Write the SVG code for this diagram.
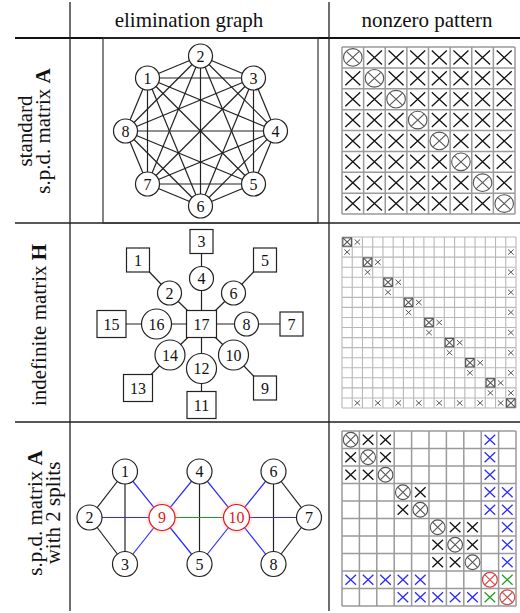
<svg xmlns="http://www.w3.org/2000/svg" xmlns:xlink="http://www.w3.org/1999/xlink" width="520" height="613" viewBox="0 0 520 613">
<style>
  .txt { font-family: "Liberation Serif", "Times New Roman", serif; fill: #111; }
  .head { font-size: 21px; text-anchor: middle; }
  .rowlbl { font-size: 21px; text-anchor: middle; }
  .nl { font-family: "Liberation Serif", "Times New Roman", serif; font-size: 16px; text-anchor: middle; fill: #111; }
  .nl.red { fill: #e01818; }
  .tbl { stroke: #222; stroke-width: 1.3; fill: none; }
  .rule { stroke: #111; stroke-width: 1.8; fill: none; }
  .node { fill: #fff; stroke: #222; stroke-width: 1.2; }
  .node.red { stroke: #e01818; }
  .edge { stroke: #222; stroke-width: 1.2; }
  .edge.blue { stroke: #2b2bff; }
  .edge.green { stroke: #1f9a1f; }
  .grid { fill: none; stroke: #9a9a9a; stroke-width: 1.5; }
  .grid.fine { stroke: #b8b8b8; stroke-width: 1.1; }
  .mk { fill: none; stroke: #111; stroke-width: 1.3; }
  .mkd { fill: none; stroke: #555; stroke-width: 1.1; }
  .mks { fill: none; stroke: #555; stroke-width: 1; }
  .mkb { fill: none; stroke: #2b2bff; stroke-width: 1.3; }
  .mkg { fill: none; stroke: #22a022; stroke-width: 1.3; }
  .mkr { fill: none; stroke: #d84848; stroke-width: 1.2; }
  .frame { fill: none; stroke: #333; stroke-width: 1.2; }
</style>
<defs>
  <!-- cross and circled-cross marks, centred on the origin -->
  <path id="xa" d="M-7.5 -7L7.5 7M-7.5 7L7.5 -7"/>
  <g id="oa"><ellipse rx="9.3" ry="8.8"/><path d="M-6.4 -6L6.4 6M-6.4 6L6.4 -6"/></g>
  <path id="xb" d="M-2.8 -2.6L2.8 2.6M-2.8 2.6L2.8 -2.6"/>
  <g id="sb"><rect x="-4.3" y="-4.2" width="8.6" height="8.4"/><path d="M-4.3 -4.2L4.3 4.2M-4.3 4.2L4.3 -4.2"/></g>
  <path id="xc" d="M-5.3 -5L5.3 5M-5.3 5L5.3 -5"/>
  <g id="oc"><circle r="7.4"/><path d="M-5.2 -5.2L5.2 5.2M-5.2 5.2L5.2 -5.2"/></g>
  <filter id="halo" x="-50%" y="-50%" width="200%" height="200%">
    <feGaussianBlur stdDeviation="1.6"/>
  </filter>
</defs>

<!-- table rules -->
<g id="table">
  <path class="rule" d="M15 38H520"/>
  <path class="tbl" d="M15 223H520M15 422H520M70 2V611M329 2V611"/>
</g>

<!-- column headings -->
<text class="txt head" x="189" y="27">elimination graph</text>
<text class="txt head" x="427" y="27">nonzero pattern</text>

<!-- row headings -->
<text class="txt rowlbl" transform="translate(32,131) rotate(-90)">standard</text>
<text class="txt rowlbl" transform="translate(50,131) rotate(-90)">s.p.d. matrix <tspan font-weight="bold">A</tspan></text>
<text class="txt rowlbl" transform="translate(46,325) rotate(-90)">indefinite matrix <tspan font-weight="bold">H</tspan></text>
<text class="txt rowlbl" transform="translate(42,513) rotate(-90)">s.p.d. matrix <tspan font-weight="bold">A</tspan></text>
<text class="txt rowlbl" transform="translate(60,513) rotate(-90)">with 2 splits</text>

<!-- ===== row 1: complete graph on 8 vertices ===== -->
<rect class="frame" x="103" y="38" width="215" height="185"/>
<g id="edges-k8">
  <line class="edge" x1="147.5" y1="78" x2="200.5" y2="56"/>
  <line class="edge" x1="147.5" y1="78" x2="253.5" y2="78"/>
  <line class="edge" x1="147.5" y1="78" x2="275.5" y2="131"/>
  <line class="edge" x1="147.5" y1="78" x2="253.5" y2="184"/>
  <line class="edge" x1="147.5" y1="78" x2="200.5" y2="206"/>
  <line class="edge" x1="147.5" y1="78" x2="147.5" y2="184"/>
  <line class="edge" x1="147.5" y1="78" x2="125.5" y2="131"/>
  <line class="edge" x1="200.5" y1="56" x2="253.5" y2="78"/>
  <line class="edge" x1="200.5" y1="56" x2="275.5" y2="131"/>
  <line class="edge" x1="200.5" y1="56" x2="253.5" y2="184"/>
  <line class="edge" x1="200.5" y1="56" x2="200.5" y2="206"/>
  <line class="edge" x1="200.5" y1="56" x2="147.5" y2="184"/>
  <line class="edge" x1="200.5" y1="56" x2="125.5" y2="131"/>
  <line class="edge" x1="253.5" y1="78" x2="275.5" y2="131"/>
  <line class="edge" x1="253.5" y1="78" x2="253.5" y2="184"/>
  <line class="edge" x1="253.5" y1="78" x2="200.5" y2="206"/>
  <line class="edge" x1="253.5" y1="78" x2="147.5" y2="184"/>
  <line class="edge" x1="253.5" y1="78" x2="125.5" y2="131"/>
  <line class="edge" x1="275.5" y1="131" x2="253.5" y2="184"/>
  <line class="edge" x1="275.5" y1="131" x2="200.5" y2="206"/>
  <line class="edge" x1="275.5" y1="131" x2="147.5" y2="184"/>
  <line class="edge" x1="275.5" y1="131" x2="125.5" y2="131"/>
  <line class="edge" x1="253.5" y1="184" x2="200.5" y2="206"/>
  <line class="edge" x1="253.5" y1="184" x2="147.5" y2="184"/>
  <line class="edge" x1="253.5" y1="184" x2="125.5" y2="131"/>
  <line class="edge" x1="200.5" y1="206" x2="147.5" y2="184"/>
  <line class="edge" x1="200.5" y1="206" x2="125.5" y2="131"/>
  <line class="edge" x1="147.5" y1="184" x2="125.5" y2="131"/>
</g>
<g id="k8-n1"><circle class="node" cx="147.5" cy="78" r="12"/><text class="nl" x="147.5" y="83.5">1</text></g>
<g id="k8-n2"><circle class="node" cx="200.5" cy="56" r="12"/><text class="nl" x="200.5" y="61.5">2</text></g>
<g id="k8-n3"><circle class="node" cx="253.5" cy="78" r="12"/><text class="nl" x="253.5" y="83.5">3</text></g>
<g id="k8-n4"><circle class="node" cx="275.5" cy="131" r="12"/><text class="nl" x="275.5" y="136.5">4</text></g>
<g id="k8-n5"><circle class="node" cx="253.5" cy="184" r="12"/><text class="nl" x="253.5" y="189.5">5</text></g>
<g id="k8-n6"><circle class="node" cx="200.5" cy="206" r="12"/><text class="nl" x="200.5" y="211.5">6</text></g>
<g id="k8-n7"><circle class="node" cx="147.5" cy="184" r="12"/><text class="nl" x="147.5" y="189.5">7</text></g>
<g id="k8-n8"><circle class="node" cx="125.5" cy="131" r="12"/><text class="nl" x="125.5" y="136.5">8</text></g>

<!-- row 1: dense 8x8 pattern -->
<g id="pattern-dense">
  <path class="grid" d="M342 47V214M363.625 47V214M385.25 47V214M406.875 47V214M428.5 47V214M450.125 47V214M471.75 47V214M493.375 47V214M515 47V214M342 47H515M342 67.875H515M342 88.75H515M342 109.625H515M342 130.5H515M342 151.375H515M342 172.25H515M342 193.125H515M342 214H515"/>
  <use href="#oa" class="mkd" x="352.81" y="57.44"/><use href="#xa" class="mk" x="374.44" y="57.44"/><use href="#xa" class="mk" x="396.06" y="57.44"/><use href="#xa" class="mk" x="417.69" y="57.44"/><use href="#xa" class="mk" x="439.31" y="57.44"/><use href="#xa" class="mk" x="460.94" y="57.44"/><use href="#xa" class="mk" x="482.56" y="57.44"/><use href="#xa" class="mk" x="504.19" y="57.44"/>
  <use href="#xa" class="mk" x="352.81" y="78.31"/><use href="#oa" class="mkd" x="374.44" y="78.31"/><use href="#xa" class="mk" x="396.06" y="78.31"/><use href="#xa" class="mk" x="417.69" y="78.31"/><use href="#xa" class="mk" x="439.31" y="78.31"/><use href="#xa" class="mk" x="460.94" y="78.31"/><use href="#xa" class="mk" x="482.56" y="78.31"/><use href="#xa" class="mk" x="504.19" y="78.31"/>
  <use href="#xa" class="mk" x="352.81" y="99.19"/><use href="#xa" class="mk" x="374.44" y="99.19"/><use href="#oa" class="mkd" x="396.06" y="99.19"/><use href="#xa" class="mk" x="417.69" y="99.19"/><use href="#xa" class="mk" x="439.31" y="99.19"/><use href="#xa" class="mk" x="460.94" y="99.19"/><use href="#xa" class="mk" x="482.56" y="99.19"/><use href="#xa" class="mk" x="504.19" y="99.19"/>
  <use href="#xa" class="mk" x="352.81" y="120.06"/><use href="#xa" class="mk" x="374.44" y="120.06"/><use href="#xa" class="mk" x="396.06" y="120.06"/><use href="#oa" class="mkd" x="417.69" y="120.06"/><use href="#xa" class="mk" x="439.31" y="120.06"/><use href="#xa" class="mk" x="460.94" y="120.06"/><use href="#xa" class="mk" x="482.56" y="120.06"/><use href="#xa" class="mk" x="504.19" y="120.06"/>
  <use href="#xa" class="mk" x="352.81" y="140.94"/><use href="#xa" class="mk" x="374.44" y="140.94"/><use href="#xa" class="mk" x="396.06" y="140.94"/><use href="#xa" class="mk" x="417.69" y="140.94"/><use href="#oa" class="mkd" x="439.31" y="140.94"/><use href="#xa" class="mk" x="460.94" y="140.94"/><use href="#xa" class="mk" x="482.56" y="140.94"/><use href="#xa" class="mk" x="504.19" y="140.94"/>
  <use href="#xa" class="mk" x="352.81" y="161.81"/><use href="#xa" class="mk" x="374.44" y="161.81"/><use href="#xa" class="mk" x="396.06" y="161.81"/><use href="#xa" class="mk" x="417.69" y="161.81"/><use href="#xa" class="mk" x="439.31" y="161.81"/><use href="#oa" class="mkd" x="460.94" y="161.81"/><use href="#xa" class="mk" x="482.56" y="161.81"/><use href="#xa" class="mk" x="504.19" y="161.81"/>
  <use href="#xa" class="mk" x="352.81" y="182.69"/><use href="#xa" class="mk" x="374.44" y="182.69"/><use href="#xa" class="mk" x="396.06" y="182.69"/><use href="#xa" class="mk" x="417.69" y="182.69"/><use href="#xa" class="mk" x="439.31" y="182.69"/><use href="#xa" class="mk" x="460.94" y="182.69"/><use href="#oa" class="mkd" x="482.56" y="182.69"/><use href="#xa" class="mk" x="504.19" y="182.69"/>
  <use href="#xa" class="mk" x="352.81" y="203.56"/><use href="#xa" class="mk" x="374.44" y="203.56"/><use href="#xa" class="mk" x="396.06" y="203.56"/><use href="#xa" class="mk" x="417.69" y="203.56"/><use href="#xa" class="mk" x="439.31" y="203.56"/><use href="#xa" class="mk" x="460.94" y="203.56"/><use href="#xa" class="mk" x="482.56" y="203.56"/><use href="#oa" class="mkd" x="504.19" y="203.56"/>
</g>

<!-- ===== row 2: star-shaped graph of the indefinite matrix ===== -->
<g id="edges-star">
  <line class="edge" x1="201.5" y1="324" x2="201.5" y2="278.5"/>
  <line class="edge" x1="201.5" y1="278.5" x2="201.5" y2="241.5"/>
  <line class="edge" x1="201.5" y1="324" x2="169.5" y2="293"/>
  <line class="edge" x1="169.5" y1="293" x2="138" y2="260"/>
  <line class="edge" x1="201.5" y1="324" x2="233.5" y2="293"/>
  <line class="edge" x1="233.5" y1="293" x2="265" y2="260"/>
  <line class="edge" x1="201.5" y1="324" x2="156.5" y2="324"/>
  <line class="edge" x1="156.5" y1="324" x2="111.5" y2="324"/>
  <line class="edge" x1="201.5" y1="324" x2="246.5" y2="324"/>
  <line class="edge" x1="246.5" y1="324" x2="291.5" y2="324"/>
  <line class="edge" x1="201.5" y1="324" x2="170" y2="355"/>
  <line class="edge" x1="170" y1="355" x2="138" y2="388"/>
  <line class="edge" x1="201.5" y1="324" x2="201.5" y2="368.5"/>
  <line class="edge" x1="201.5" y1="368.5" x2="201.5" y2="405"/>
  <line class="edge" x1="201.5" y1="324" x2="233.5" y2="355"/>
  <line class="edge" x1="233.5" y1="355" x2="265" y2="388"/>
</g>
<g id="st-n1"><rect class="node" x="126.5" y="248" width="23" height="24"/><text class="nl" x="138" y="265.5">1</text></g>
<g id="st-n2"><circle class="node" cx="169.5" cy="293" r="12"/><text class="nl" x="169.5" y="298.5">2</text></g>
<g id="st-n3"><rect class="node" x="190" y="229.5" width="23" height="24"/><text class="nl" x="201.5" y="247">3</text></g>
<g id="st-n4"><circle class="node" cx="201.5" cy="278.5" r="12"/><text class="nl" x="201.5" y="284">4</text></g>
<g id="st-n5"><rect class="node" x="253.5" y="248" width="23" height="24"/><text class="nl" x="265" y="265.5">5</text></g>
<g id="st-n6"><circle class="node" cx="233.5" cy="293" r="12"/><text class="nl" x="233.5" y="298.5">6</text></g>
<g id="st-n7"><rect class="node" x="280" y="312" width="23" height="24"/><text class="nl" x="291.5" y="329.5">7</text></g>
<g id="st-n8"><circle class="node" cx="246.5" cy="324" r="12"/><text class="nl" x="246.5" y="329.5">8</text></g>
<g id="st-n9"><rect class="node" x="253.5" y="376" width="23" height="24"/><text class="nl" x="265" y="393.5">9</text></g>
<g id="st-n10"><circle class="node" cx="233.5" cy="355" r="15"/><text class="nl" x="233.5" y="360.5">10</text></g>
<g id="st-n11"><rect class="node" x="187" y="391.5" width="29" height="27"/><text class="nl" x="201.5" y="410.5">11</text></g>
<g id="st-n12"><circle class="node" cx="201.5" cy="368.5" r="15"/><text class="nl" x="201.5" y="374">12</text></g>
<g id="st-n13"><rect class="node" x="123.5" y="374.5" width="29" height="27"/><text class="nl" x="138" y="393.5">13</text></g>
<g id="st-n14"><circle class="node" cx="170" cy="355" r="15"/><text class="nl" x="170" y="360.5">14</text></g>
<g id="st-n15"><rect class="node" x="97" y="310.5" width="29" height="27"/><text class="nl" x="111.5" y="329.5">15</text></g>
<g id="st-n16"><circle class="node" cx="156.5" cy="324" r="15"/><text class="nl" x="156.5" y="329.5">16</text></g>
<g id="st-n17"><rect class="node" x="186.5" y="310.5" width="30" height="27"/><text class="nl" x="201.5" y="329.5">17</text></g>

<!-- row 2: 17x17 arrow pattern -->
<g id="pattern-arrow">
  <path class="grid fine" d="M342 237V408M352.24 237V408M362.47 237V408M372.71 237V408M382.94 237V408M393.18 237V408M403.41 237V408M413.65 237V408M423.88 237V408M434.12 237V408M444.35 237V408M454.59 237V408M464.82 237V408M475.06 237V408M485.29 237V408M495.53 237V408M505.76 237V408M516 237V408M342 237H516M342 247.06H516M342 257.12H516M342 267.18H516M342 277.24H516M342 287.29H516M342 297.35H516M342 307.41H516M342 317.47H516M342 327.53H516M342 337.59H516M342 347.65H516M342 357.71H516M342 367.76H516M342 377.82H516M342 387.88H516M342 397.94H516M342 408H516"/>
  <use href="#sb" class="mkd" x="347.12" y="242.03"/><use href="#xb" class="mks" x="357.35" y="242.03"/>
  <use href="#xb" class="mks" x="347.12" y="252.09"/><use href="#xb" class="mks" x="510.88" y="252.09"/>
  <use href="#sb" class="mkd" x="367.59" y="262.15"/><use href="#xb" class="mks" x="377.82" y="262.15"/>
  <use href="#xb" class="mks" x="367.59" y="272.21"/><use href="#xb" class="mks" x="510.88" y="272.21"/>
  <use href="#sb" class="mkd" x="388.06" y="282.26"/><use href="#xb" class="mks" x="398.29" y="282.26"/>
  <use href="#xb" class="mks" x="388.06" y="292.32"/><use href="#xb" class="mks" x="510.88" y="292.32"/>
  <use href="#sb" class="mkd" x="408.53" y="302.38"/><use href="#xb" class="mks" x="418.76" y="302.38"/>
  <use href="#xb" class="mks" x="408.53" y="312.44"/><use href="#xb" class="mks" x="510.88" y="312.44"/>
  <use href="#sb" class="mkd" x="429" y="322.5"/><use href="#xb" class="mks" x="439.24" y="322.5"/>
  <use href="#xb" class="mks" x="429" y="332.56"/><use href="#xb" class="mks" x="510.88" y="332.56"/>
  <use href="#sb" class="mkd" x="449.47" y="342.62"/><use href="#xb" class="mks" x="459.71" y="342.62"/>
  <use href="#xb" class="mks" x="449.47" y="352.68"/><use href="#xb" class="mks" x="510.88" y="352.68"/>
  <use href="#sb" class="mkd" x="469.94" y="362.74"/><use href="#xb" class="mks" x="480.18" y="362.74"/>
  <use href="#xb" class="mks" x="469.94" y="372.79"/><use href="#xb" class="mks" x="510.88" y="372.79"/>
  <use href="#sb" class="mkd" x="490.41" y="382.85"/><use href="#xb" class="mks" x="500.65" y="382.85"/>
  <use href="#xb" class="mks" x="490.41" y="392.91"/><use href="#xb" class="mks" x="510.88" y="392.91"/>
  <use href="#xb" class="mks" x="357.35" y="402.97"/><use href="#xb" class="mks" x="377.82" y="402.97"/><use href="#xb" class="mks" x="398.29" y="402.97"/><use href="#xb" class="mks" x="418.76" y="402.97"/><use href="#xb" class="mks" x="439.24" y="402.97"/><use href="#xb" class="mks" x="459.71" y="402.97"/><use href="#xb" class="mks" x="480.18" y="402.97"/><use href="#xb" class="mks" x="500.65" y="402.97"/><use href="#sb" class="mkd" x="510.88" y="402.97"/>
</g>

<!-- ===== row 3: graph with two split vertices ===== -->
<g id="edges-split">
  <line class="edge" x1="125" y1="471.5" x2="89.5" y2="517.5"/>
  <line class="edge" x1="125" y1="471.5" x2="125" y2="564"/>
  <line class="edge" x1="89.5" y1="517.5" x2="125" y2="564"/>
  <line class="edge" x1="199.5" y1="471.5" x2="199.5" y2="564"/>
  <line class="edge" x1="273.5" y1="471.5" x2="309" y2="517.5"/>
  <line class="edge" x1="273.5" y1="471.5" x2="273.5" y2="564"/>
  <line class="edge" x1="309" y1="517.5" x2="273.5" y2="564"/>
  <line class="edge blue" x1="89.5" y1="517.5" x2="162" y2="517.5"/>
  <line class="edge blue" x1="125" y1="471.5" x2="162" y2="517.5"/>
  <line class="edge blue" x1="125" y1="564" x2="162" y2="517.5"/>
  <line class="edge blue" x1="162" y1="517.5" x2="199.5" y2="471.5"/>
  <line class="edge blue" x1="162" y1="517.5" x2="199.5" y2="564"/>
  <line class="edge blue" x1="236.5" y1="517.5" x2="199.5" y2="471.5"/>
  <line class="edge blue" x1="236.5" y1="517.5" x2="199.5" y2="564"/>
  <line class="edge blue" x1="236.5" y1="517.5" x2="273.5" y2="471.5"/>
  <line class="edge blue" x1="236.5" y1="517.5" x2="273.5" y2="564"/>
  <line class="edge blue" x1="236.5" y1="517.5" x2="309" y2="517.5"/>
  <line class="edge green" x1="162" y1="517.5" x2="236.5" y2="517.5"/>
</g>
<g id="sp-n1"><circle class="node" cx="125" cy="471.5" r="12.5"/><text class="nl" x="125" y="477">1</text></g>
<g id="sp-n2"><circle class="node" cx="89.5" cy="517.5" r="12.5"/><text class="nl" x="89.5" y="523">2</text></g>
<g id="sp-n3"><circle class="node" cx="125" cy="564" r="12.5"/><text class="nl" x="125" y="569.5">3</text></g>
<g id="sp-n4"><circle class="node" cx="199.5" cy="471.5" r="12.5"/><text class="nl" x="199.5" y="477">4</text></g>
<g id="sp-n5"><circle class="node" cx="199.5" cy="564" r="12.5"/><text class="nl" x="199.5" y="569.5">5</text></g>
<g id="sp-n6"><circle class="node" cx="273.5" cy="471.5" r="12.5"/><text class="nl" x="273.5" y="477">6</text></g>
<g id="sp-n7"><circle class="node" cx="309" cy="517.5" r="12.5"/><text class="nl" x="309" y="523">7</text></g>
<g id="sp-n8"><circle class="node" cx="273.5" cy="564" r="12.5"/><text class="nl" x="273.5" y="569.5">8</text></g>
<g id="sp-n9">
  <circle cx="162" cy="517.5" r="13.5" fill="none" stroke="#ff9a9a" stroke-width="3" opacity="0.4" filter="url(#halo)"/>
  <circle class="node red" cx="162" cy="517.5" r="13"/><text class="nl red" x="162" y="523">9</text>
</g>
<g id="sp-n10">
  <circle cx="236.5" cy="517.5" r="13.5" fill="none" stroke="#ff9a9a" stroke-width="3" opacity="0.4" filter="url(#halo)"/>
  <circle class="node red" cx="236.5" cy="517.5" r="13"/><text class="nl red" x="236.5" y="523">10</text>
</g>

<!-- row 3: 10x10 pattern with split rows -->
<g id="pattern-split">
  <path class="grid" d="M342 431V606M359.4 431V606M376.8 431V606M394.2 431V606M411.6 431V606M429 431V606M446.4 431V606M463.8 431V606M481.2 431V606M498.6 431V606M516 431V606M342 431H516M342 448.5H516M342 466H516M342 483.5H516M342 501H516M342 518.5H516M342 536H516M342 553.5H516M342 571H516M342 588.5H516M342 606H516"/>
  <use href="#oc" class="mkd" x="350.7" y="439.75"/><use href="#xc" class="mk" x="368.1" y="439.75"/><use href="#xc" class="mk" x="385.5" y="439.75"/><use href="#xc" class="mkb" x="489.9" y="439.75"/>
  <use href="#xc" class="mk" x="350.7" y="457.25"/><use href="#oc" class="mkd" x="368.1" y="457.25"/><use href="#xc" class="mk" x="385.5" y="457.25"/><use href="#xc" class="mkb" x="489.9" y="457.25"/>
  <use href="#xc" class="mk" x="350.7" y="474.75"/><use href="#xc" class="mk" x="368.1" y="474.75"/><use href="#oc" class="mkd" x="385.5" y="474.75"/><use href="#xc" class="mkb" x="489.9" y="474.75"/>
  <use href="#oc" class="mkd" x="402.9" y="492.25"/><use href="#xc" class="mk" x="420.3" y="492.25"/><use href="#xc" class="mkb" x="489.9" y="492.25"/><use href="#xc" class="mkb" x="507.3" y="492.25"/>
  <use href="#xc" class="mk" x="402.9" y="509.75"/><use href="#oc" class="mkd" x="420.3" y="509.75"/><use href="#xc" class="mkb" x="489.9" y="509.75"/><use href="#xc" class="mkb" x="507.3" y="509.75"/>
  <use href="#oc" class="mkd" x="437.7" y="527.25"/><use href="#xc" class="mk" x="455.1" y="527.25"/><use href="#xc" class="mk" x="472.5" y="527.25"/><use href="#xc" class="mkb" x="507.3" y="527.25"/>
  <use href="#xc" class="mk" x="437.7" y="544.75"/><use href="#oc" class="mkd" x="455.1" y="544.75"/><use href="#xc" class="mk" x="472.5" y="544.75"/><use href="#xc" class="mkb" x="507.3" y="544.75"/>
  <use href="#xc" class="mk" x="437.7" y="562.25"/><use href="#xc" class="mk" x="455.1" y="562.25"/><use href="#oc" class="mkd" x="472.5" y="562.25"/><use href="#xc" class="mkb" x="507.3" y="562.25"/>
  <use href="#xc" class="mkb" x="350.7" y="579.75"/><use href="#xc" class="mkb" x="368.1" y="579.75"/><use href="#xc" class="mkb" x="385.5" y="579.75"/><use href="#xc" class="mkb" x="402.9" y="579.75"/><use href="#xc" class="mkb" x="420.3" y="579.75"/><use href="#oc" class="mkr" x="489.9" y="579.75"/><use href="#xc" class="mkg" x="507.3" y="579.75"/>
  <use href="#xc" class="mkb" x="402.9" y="597.25"/><use href="#xc" class="mkb" x="420.3" y="597.25"/><use href="#xc" class="mkb" x="437.7" y="597.25"/><use href="#xc" class="mkb" x="455.1" y="597.25"/><use href="#xc" class="mkb" x="472.5" y="597.25"/><use href="#xc" class="mkg" x="489.9" y="597.25"/><use href="#oc" class="mkr" x="507.3" y="597.25"/>
</g>
</svg>
